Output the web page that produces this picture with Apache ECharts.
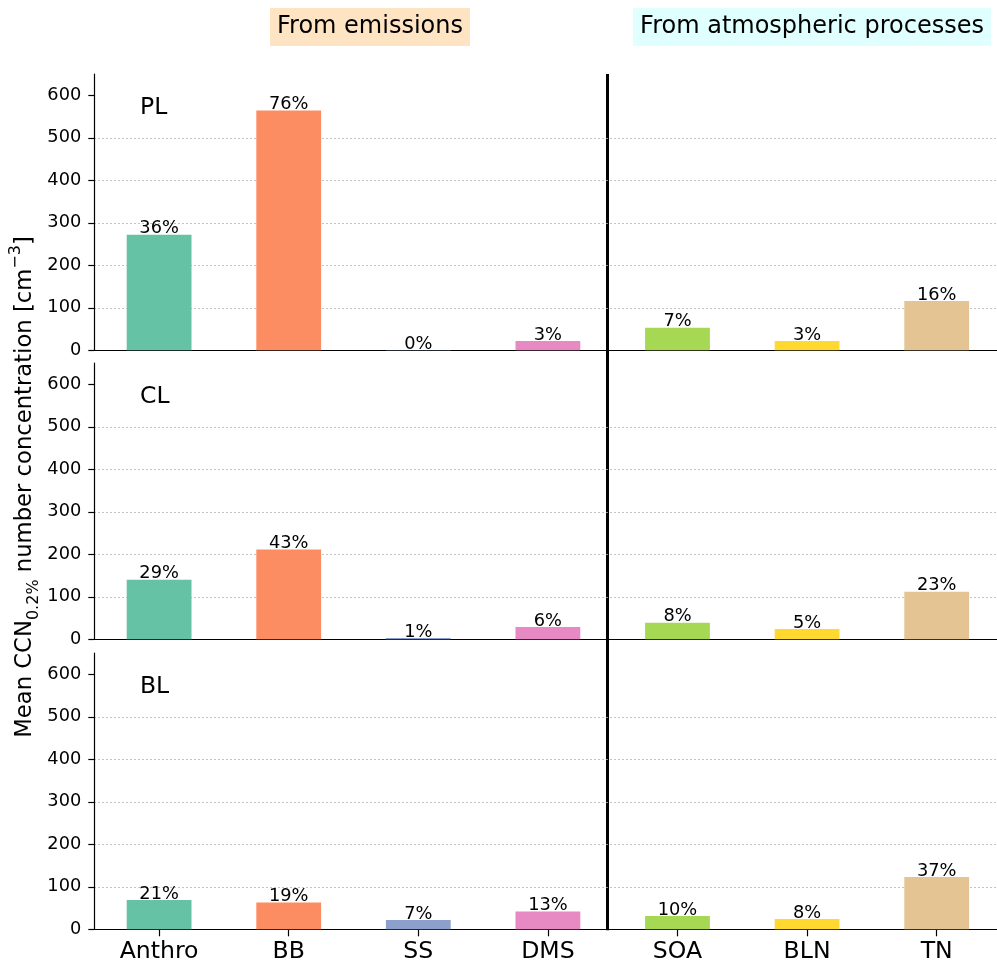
<!DOCTYPE html>
<html>
<head>
<meta charset="utf-8">
<script src="https://cdn.jsdelivr.net/npm/echarts@6/dist/echarts.min.js"></script>
<style>
  html, body { margin: 0; padding: 0; background: #ffffff; overflow: hidden; }
  /* canvas is a little wider than the page so the last band runs off the right edge */
  #chart { width: 1002px; height: 965px; }
</style>
</head>
<body>
<div id="chart"></div>
<script>
// Region rows and source categories
const regions = ['PL', 'CL', 'BL'];
const emissionSources = ['Anthro', 'BB', 'SS', 'DMS'];
const processSources = ['SOA', 'BLN', 'TN'];

// Mean CCN(0.2%) per source, cm^-3 (emission sources first, then processes)
const plValues = [272, 564, 0.5, 22, 53, 22, 116];
const clValues = [140, 211, 3, 29, 39, 24, 112];
const blValues = [69, 63, 22, 42, 31, 24, 123];

// Share of the regional total, %
const plShares = [36, 76, 0, 3, 7, 3, 16];
const clShares = [29, 43, 1, 6, 8, 5, 23];
const blShares = [21, 19, 7, 13, 10, 8, 37];

const yTicks = [0, 100, 200, 300, 400, 500, 600];
const sourceColors = ['#66c2a5', '#fc8d62', '#8da0cb', '#e78ac3', '#a6d854', '#ffd92f', '#e5c494'];

const sources = emissionSources.concat(processSources);
const rowValues = [plValues, clValues, blValues];
const rowShares = [plShares, clShares, blShares];

const FONT = 'DejaVu Sans';
const rowTops = [74, 363, 653];
const rowHeight = 276.3;
const gridLeft = 94.3;
const dividerX = 607.5;

const grids = [], xAxes = [], yAxes = [], series = [];

rowTops.forEach((top, r) => {
  const isBottom = r === rowTops.length - 1;
  grids.push({ left: gridLeft, right: 0.5, top: top, height: rowHeight, containLabel: false });
  xAxes.push({
    type: 'category', gridIndex: r, data: sources, boundaryGap: true,
    axisLine: { show: true, onZero: false, lineStyle: { color: '#000', width: 1.2 } },
    axisTick: { show: isBottom, alignWithLabel: true, length: 7, lineStyle: { color: '#000', width: 1.2 } },
    axisLabel: { show: isBottom, margin: 11, fontFamily: FONT, fontSize: 23.6, color: '#000' },
    splitLine: { show: false }
  });
  yAxes.push({
    type: 'value', gridIndex: r, min: 0, max: 650, interval: 100,
    axisLine: { show: true, onZero: false, lineStyle: { color: '#000', width: 1.2 } },
    axisTick: { show: true, customValues: yTicks, length: 6, lineStyle: { color: '#000', width: 1.2 } },
    axisLabel: { show: true, customValues: yTicks, margin: 13, fontFamily: FONT, fontSize: 17.8, color: '#000' },
    splitLine: {
      show: true, showMinLine: false, showMaxLine: false,
      lineStyle: { color: '#b0b0b0', type: [1.5, 2.5], width: 1 }
    }
  });
  const shares = rowShares[r];
  series.push({
    type: 'bar', xAxisIndex: r, yAxisIndex: r,
    barWidth: '50%',
    data: rowValues[r],
    itemStyle: { color: p => sourceColors[p.dataIndex] },
    label: {
      show: true, position: 'top', distance: -3,
      fontFamily: FONT, fontSize: 17.8, color: '#000',
      formatter: p => shares[p.dataIndex] + '%'
    },
    silent: true, animation: false
  });
});

const graphics = [];
// Panel region labels
regions.forEach((name, r) => {
  graphics.push({
    type: 'text', x: 140, y: rowTops[r] + 34,
    style: { text: name, font: '23.5px "DejaVu Sans"', fill: '#000', align: 'left', verticalAlign: 'middle' }
  });
});
// Divider between emission and process sources
graphics.push({
  type: 'line',
  shape: { x1: dividerX, y1: rowTops[0], x2: dividerX, y2: rowTops[2] + rowHeight + 1 },
  style: { stroke: '#000', lineWidth: 3 }
});
// Group headers
graphics.push({
  type: 'text', x: 370, y: 27,
  style: {
    text: 'From emissions', font: '24px "DejaVu Sans"', fill: '#000',
    align: 'center', verticalAlign: 'middle',
    backgroundColor: '#ffe4c4', padding: [7, 7, 7, 7]
  }
});
graphics.push({
  type: 'text', x: 812, y: 27,
  style: {
    text: 'From atmospheric processes', font: '24px "DejaVu Sans"', fill: '#000',
    align: 'center', verticalAlign: 'middle',
    backgroundColor: '#e0ffff', padding: [7, 7, 7, 7]
  }
});
// Shared y-axis title
graphics.push({
  type: 'text', x: 25, y: 487, rotation: Math.PI / 2,
  style: {
    text: '{m|Mean CCN}{sub|0.2%}{m| number concentration [cm}{sup|\u22123}{m|]}',
    align: 'center', verticalAlign: 'middle', fill: '#000',
    rich: {
      m: { fontFamily: FONT, fontSize: 22.7, lineHeight: 34, verticalAlign: 'middle' },
      sub: { fontFamily: FONT, fontSize: 16, lineHeight: 34, verticalAlign: 'bottom' },
      sup: { fontFamily: FONT, fontSize: 16, lineHeight: 34, verticalAlign: 'top' }
    }
  }
});

const chart = echarts.init(document.getElementById('chart'), null, { renderer: 'canvas' });
chart.setOption({
  animation: false,
  backgroundColor: '#ffffff',
  grid: grids,
  xAxis: xAxes,
  yAxis: yAxes,
  series: series,
  graphic: graphics
});
</script>
</body>
</html>
